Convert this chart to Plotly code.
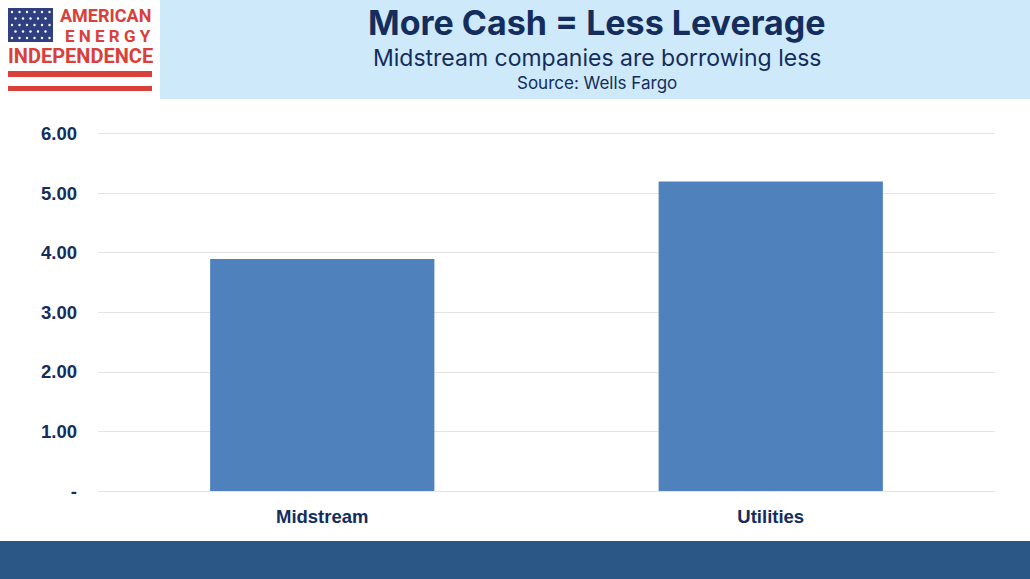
import plotly.graph_objects as go

# data
categories = ["Midstream", "Utilities"]
leverage = [3.9, 5.2]
tick_vals = [0, 1, 2, 3, 4, 5, 6]
tick_text = ["-", "1.00", "2.00", "3.00", "4.00", "5.00", "6.00"]

W, H = 1030, 579
navy = "#142d5c"
red = "#d9403a"


def px(x0, y0, x1, y1):
    # pixel box -> paper coords (margins are zero)
    return dict(x0=x0 / W, x1=x1 / W, y0=1 - y1 / H, y1=1 - y0 / H)


fig = go.Figure()
fig.add_trace(go.Bar(
    x=categories, y=leverage,
    marker=dict(color="#4f81bd", line=dict(width=0)),
    hoverinfo="x+y",
))

shapes = []
# header box and footer band
shapes.append(dict(type="rect", xref="paper", yref="paper", line_width=0,
                   fillcolor="#cde9fa", layer="below", **px(160, 0, 1030, 99)))
shapes.append(dict(type="rect", xref="paper", yref="paper", line_width=0,
                   fillcolor="#2a5785", layer="below", **px(0, 541, 1030, 579)))
# logo: flag canton and stripes
shapes.append(dict(type="rect", xref="paper", yref="paper", line_width=0,
                   fillcolor="#2f3f82", **px(8, 8, 53, 42)))
for cy in range(0, 5):
    for cx in range(0, 6):
        xx = 12 + cx * 7.5 + (3.5 if cy % 2 else 0)
        yy = 12 + cy * 6.5
        if xx > 50:
            continue
        shapes.append(dict(type="circle", xref="paper", yref="paper", line_width=0,
                           fillcolor="white", **px(xx - 1.2, yy - 1.2, xx + 1.2, yy + 1.2)))
shapes.append(dict(type="rect", xref="paper", yref="paper", line_width=0,
                   fillcolor=red, **px(8, 71, 152, 77)))
shapes.append(dict(type="rect", xref="paper", yref="paper", line_width=0,
                   fillcolor=red, **px(8, 86, 152, 91)))

annotations = [
    dict(text="<b>AMERICAN</b>", x=153 / W, y=1 - 16 / H, xanchor="right", yanchor="middle",
         font=dict(family="Roboto", size=18, color=red)),
    dict(text="<b>E N E R G Y</b>", x=153 / W, y=1 - 36 / H, xanchor="right", yanchor="middle",
         font=dict(family="Roboto", size=17, color=red)),
    dict(text="<b>INDEPENDENCE</b>", x=80 / W, y=1 - 56 / H, xanchor="center", yanchor="middle",
         font=dict(family="Roboto", size=20, color=red)),
    dict(text="<b>More Cash = Less Leverage</b>", x=597 / W, y=1 - 23 / H,
         xanchor="center", yanchor="middle",
         font=dict(family="Inter", size=34, color=navy)),
    dict(text="Midstream companies are borrowing less", x=597 / W, y=1 - 58 / H,
         xanchor="center", yanchor="middle",
         font=dict(family="Inter", size=23, color=navy)),
    dict(text="Source: Wells Fargo", x=597 / W, y=1 - 83 / H,
         xanchor="center", yanchor="middle",
         font=dict(family="Inter", size=17, color=navy)),
]
for a in annotations:
    a.update(xref="paper", yref="paper", showarrow=False)

fig.update_layout(
    width=W, height=H,
    margin=dict(l=0, r=0, t=0, b=0),
    paper_bgcolor="white", plot_bgcolor="white",
    showlegend=False,
    bargap=0.5,
    shapes=shapes,
    annotations=annotations,
    xaxis=dict(
        domain=[98 / W, 995 / W],
        showgrid=False, zeroline=False, showline=False,
        tickfont=dict(family="Liberation Sans", size=18.5, color=navy, weight="bold"),
        ticks="", ticklabelstandoff=9, automargin=False,
    ),
    yaxis=dict(
        domain=[1 - 494 / H, 1 - 131 / H],
        range=[-0.05, 6.05], tickvals=tick_vals, ticktext=tick_text,
        showgrid=True, gridcolor="#e3e3e3", gridwidth=1,
        zeroline=False, showline=False,
        tickfont=dict(family="Liberation Sans", size=18.5, color=navy, weight="bold"),
        ticks="", ticklabelstandoff=20, automargin=False,
    ),
)

fig.write_html("out.html", config={"displayModeBar": False},
               post_script="document.body.style.margin='0px';")
